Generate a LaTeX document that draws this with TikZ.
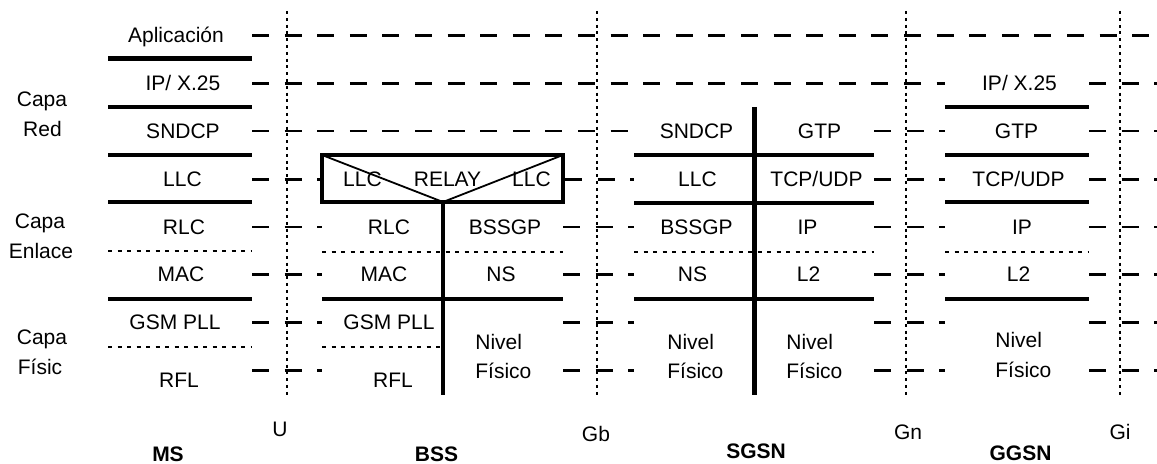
\documentclass[tikz,border=0pt]{standalone}
\usepackage{fontspec}
\setmainfont{Liberation Sans}
\begin{document}
\begin{tikzpicture}[x=0.5pt,y=-0.5pt,
  lbl/.style={inner sep=0pt,text height=7.5pt,text depth=0pt,font=\fontsize{10.5}{12.6}\selectfont},
  bold/.style={lbl,font=\fontsize{10.5}{12.6}\selectfont\bfseries},
  dsh/.style={line width=1.1pt,dash pattern=on 8.5pt off 7.8pt},
  vdot/.style={line width=1.3pt,dash pattern=on 1.5pt off 1.9pt},
  hdot/.style={line width=1.3pt,dash pattern=on 2pt off 2.75pt},
  sep/.style={line width=2pt},
  vbar/.style={line width=2.4pt},
  diag/.style={line width=0.9pt}]
\useasboundingbox (0,0) rectangle (1157,464);

% coordinates for stack edges
\foreach \y/\n in {35.5/a,83.5/b,131/c,179.5/d,227/e,274.5/f,322.5/g,370.5/h}{
  \coordinate (ms\n) at (252,\y);
  \coordinate (bl\n) at (322,\y);
  \coordinate (br\n) at (563,\y);
  \coordinate (sl\n) at (634,\y);
  \coordinate (sr\n) at (874,\y);
  \coordinate (gl\n) at (945,\y);
  \coordinate (gr\n) at (1089,\y);
  \coordinate (ed\n) at (1157,\y);
}
% dashed peer lines
\draw[dsh] (msa) -- (eda);
\draw[dsh] (msb) -- (glb);
\draw[dsh] (grb) -- (edb);
\draw[dsh] (msc) -- (slc);
\draw[dsh] (src) -- (glc);
\draw[dsh] (grc) -- (edc);
\draw[dsh] (msd) -- (bld);
\draw[dsh] ([xshift=1pt]brd) -- (sld);
\foreach \n in {e,f,g,h}{
  \draw[dsh] (ms\n) -- (bl\n);
  \draw[dsh] (br\n) -- (sl\n);
}
\foreach \n in {d,e,f,g,h}{
  \draw[dsh] (sr\n) -- (gl\n);
  \draw[dsh] (gr\n) -- (ed\n);
}

% interface dotted lines
\foreach \x/\n in {287/U,597/Gb,906/Gn,1120/Gi}{
  \coordinate (t\n) at (\x,11);
  \coordinate (b\n) at (\x,395);
  \draw[vdot] (t\n) -- (b\n);
}

% ---------- MS ----------
\draw[sep,line width=2.5pt] (108,59) -- (252,59);
\foreach \y in {107,155,202,299}{\draw[sep] (108,\y) -- (252,\y);}
\foreach \y in {251,347}{\draw[hdot] (108,\y) -- (252,\y);}
\node[lbl] (msapp) at (176,35.5) {Aplicación};
\node[lbl] (msip) at (183,83.5) {IP/ X.25};
\node[lbl] (mssn) at (183,131) {SNDCP};
\node[lbl] (msllc) at (182.5,179.5) {LLC};
\node[lbl] (msrlc) at (184,227) {RLC};
\node[lbl] (msmac) at (181,274.5) {MAC};
\node[lbl] (mspll) at (175,322.5) {GSM PLL};
\node[lbl] (msrfl) at (179,380.5) {RFL};

% ---------- BSS ----------
\coordinate (bv) at (443,202);
\coordinate (bvb) at (443,395);
\draw[diag] (322,155) -- (bv) -- (563,155);
\draw[sep] (322,155) rectangle (563,202);
\draw[vbar] (bv) -- (bvb);
\draw[hdot] (322,252) -- (563,252);
\draw[sep] (322,299) -- (563,299);
\draw[hdot] (322,347) -- (443,347);
\node[lbl] (bllc1) at (362.5,179) {LLC};
\node[lbl] (brelay) at (447.5,179) {RELAY};
\node[lbl] (bllc2) at (531.5,179) {LLC};
\node[lbl] (brlc) at (389,227) {RLC};
\node[lbl] (bbssgp) at (505,227) {BSSGP};
\node[lbl] (bmac) at (384,274.5) {MAC};
\node[lbl] (bns) at (501,274.5) {NS};
\node[lbl] (bpll) at (389,322.5) {GSM PLL};
\node[lbl] (brfl) at (393,380.5) {RFL};
\node[lbl,anchor=west] (bniv) at (475,342.5) {Nivel};
\node[lbl,anchor=west] (bfis) at (475,371) {Físico};

% ---------- SGSN ----------
\coordinate (sv) at (754,107);
\coordinate (svb) at (754,395);
\foreach \y in {155,203,299}{\draw[sep] (634,\y) -- (874,\y);}
\draw[hdot] (634,252) -- (874,252);
\draw[vbar,line width=2.5pt] (sv) -- (svb);
\node[lbl] (ssn) at (696.5,131) {SNDCP};
\node[lbl] (sgtp) at (819.5,131) {GTP};
\node[lbl] (sllc) at (697.5,179.5) {LLC};
\node[lbl] (stcp) at (816.5,179.5) {TCP/UDP};
\node[lbl] (sbssgp) at (696.5,227) {BSSGP};
\node[lbl] (sip) at (807.5,227) {IP};
\node[lbl] (sns) at (692.5,274.5) {NS};
\node[lbl] (sl2) at (808.5,274.5) {L2};
\node[lbl,anchor=west] (sniv1) at (667,342.5) {Nivel};
\node[lbl,anchor=west] (sfis1) at (667,371.5) {Físico};
\node[lbl,anchor=west] (sniv2) at (786,342.5) {Nivel};
\node[lbl,anchor=west] (sfis2) at (786,371.5) {Físico};

% ---------- GGSN ----------
\foreach \y in {107,155,202,299}{\draw[sep] (945,\y) -- (1089,\y);}
\draw[hdot] (945,252) -- (1089,252);
\node[lbl] (gip) at (1019.5,83.5) {IP/ X.25};
\node[lbl] (ggtp) at (1016.5,131) {GTP};
\node[lbl] (gtcp) at (1018.5,179.5) {TCP/UDP};
\node[lbl] (gip2) at (1022,227) {IP};
\node[lbl] (gl2) at (1018.5,274.5) {L2};
\node[lbl,anchor=west] (gniv) at (995,340.5) {Nivel};
\node[lbl,anchor=west] (gfis) at (995,370) {Físico};

% ---------- side labels ----------
\node[lbl] (c1) at (42,99.5) {Capa};
\node[lbl] (c1b) at (42.5,129.5) {Red};
\node[lbl] (c2) at (40,221.5) {Capa};
\node[lbl] (c2b) at (41,251.5) {Enlace};
\node[lbl] (c3) at (42,337.5) {Capa};
\node[lbl] (c3b) at (40,367.5) {Físic};

% ---------- interface and entity labels ----------
\node[lbl] (lU) at (280,429.5) {U};
\node[lbl] (lGb) at (596,434.5) {Gb};
\node[lbl] (lGn) at (908,432.5) {Gn};
\node[lbl] (lGi) at (1120,432.5) {Gi};
\node[bold] (eMS) at (168,454.5) {MS};
\node[bold] (eBSS) at (436.5,454.5) {BSS};
\node[bold] (eSGSN) at (756,451.5) {SGSN};
\node[bold] (eGGSN) at (1020.5,453.5) {GGSN};
\end{tikzpicture}
\end{document}
